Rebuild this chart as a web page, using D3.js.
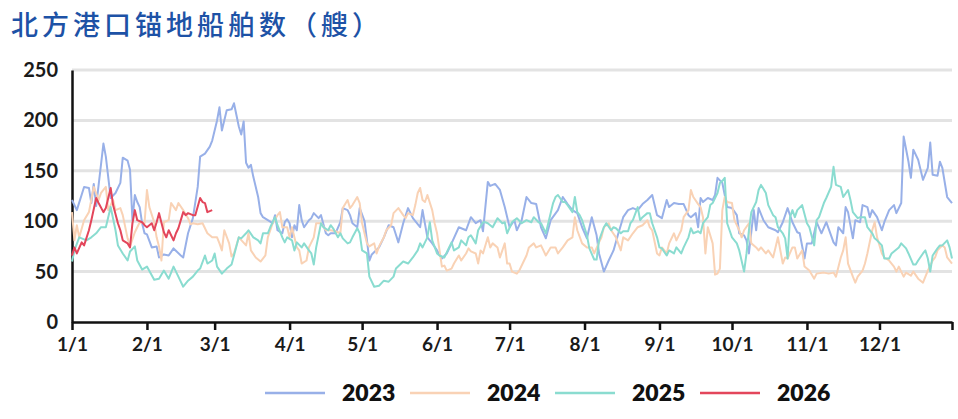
<!DOCTYPE html>
<html><head><meta charset="utf-8">
<script src="https://cdn.jsdelivr.net/npm/d3@7"></script>
<style>
html,body{margin:0;padding:0;background:#fff;}
svg{display:block;}
</style></head>
<body>
<svg id="chart" width="958" height="419"></svg>
<script>
// ---------- DATA (day = days since 1 Jan, value = ships at anchor) ----------
const title = "北方港口锚地船舶数（艘）";
const seriesNames = ["2023", "2024", "2025", "2026"];
const yTicks = [0, 50, 100, 150, 200, 250];
const monthStartDays = [0, 31, 59, 90, 120, 151, 181, 212, 243, 273, 304, 334];
const monthLabels = ["1/1","2/1","3/1","4/1","5/1","6/1","7/1","8/1","9/1","10/1","11/1","12/1"];

const days2023 = [0,2,5,7,8,9,10,13,14,16,18,20,21,23,24,25,26,27,28,29,30,31,33,35,36,38,40,42,45,46,48,50,52,53,55,57,58,60,61,62,64,66,67,69,70,71,72,73,74,75,77,78,79,81,83,84,85,87,88,89,90,91,92,93,94,95,96,98,99,100,102,103,105,106,107,109,111,112,114,115,116,118,119,121,122,123,124,127,129,131,133,135,137,139,141,144,145,147,149,151,153,155,157,160,163,165,167,169,170,172,173,175,177,179,181,183,184,186,188,190,192,194,196,198,201,203,205,207,209,211,213,215,217,218,220,222,224,226,228,230,232,234,236,238,240,242,244,246,247,249,251,253,255,256,258,259,260,261,263,265,266,267,269,270,271,273,275,276,278,279,280,282,283,284,286,288,291,292,294,296,298,300,301,303,304,306,308,310,312,315,316,317,319,320,321,323,324,326,327,329,330,331,333,335,336,338,340,341,343,344,346,347,348,350,351,352,354,355,356,358,359,360,362,364];
const vals2023 = [121,111,134,133,118,137,115,177,164,123,128,138,163,160,151,101,126,119,114,98,88,87,74,75,64,67,66,73,66,64,88,103,134,164,167,174,180,200,213,190,210,211,217,194,186,199,158,153,156,144,124,108,104,101,98,106,91,88,99,102,98,84,96,91,116,101,94,101,103,108,103,106,88,86,88,88,99,113,111,106,98,94,113,100,81,61,67,74,84,96,94,79,98,113,103,94,111,84,78,71,63,68,78,94,91,104,98,101,90,139,135,137,131,114,94,101,91,101,124,118,117,94,83,101,111,124,117,111,108,94,83,104,86,68,50,61,71,88,104,111,113,111,117,121,126,106,103,121,114,118,117,117,106,104,108,94,123,119,123,121,126,143,138,126,114,113,106,88,86,81,68,111,91,113,101,94,91,89,99,113,99,89,88,63,78,78,99,88,99,79,76,94,88,114,109,83,101,99,116,114,104,111,104,91,99,111,116,108,118,184,159,143,171,161,151,141,153,178,146,145,159,153,124,118];

const days2024 = [0,1,2,3,5,7,9,11,12,14,15,17,18,20,21,23,24,26,28,30,31,32,34,35,36,37,38,40,41,43,44,46,48,49,50,52,54,56,58,60,61,62,63,65,66,67,69,72,73,74,76,78,80,81,83,85,86,87,89,90,91,93,94,95,97,98,100,101,103,105,107,109,111,112,114,115,116,118,119,120,122,123,125,126,127,129,130,132,133,135,137,138,139,141,142,143,144,145,146,147,149,150,151,153,154,155,157,158,160,161,163,164,165,167,168,169,170,172,173,174,176,177,179,180,181,182,184,185,187,188,189,191,192,194,196,198,200,201,203,205,207,208,209,211,213,215,216,218,219,220,222,223,225,227,228,230,232,234,236,238,239,240,242,243,244,246,247,249,250,252,253,255,256,257,259,260,261,262,263,265,266,267,268,269,270,271,273,274,276,277,278,280,281,283,284,285,287,288,290,291,292,294,295,296,298,299,300,302,303,305,307,308,311,313,315,316,318,319,320,321,323,324,325,327,328,329,331,332,333,335,336,338,340,341,342,344,345,347,348,350,352,353,354,356,357,358,360,361,362,364];
const vals2024 = [109,81,96,84,101,109,134,121,128,134,111,121,111,113,106,83,75,89,99,98,131,114,99,84,75,61,99,101,118,111,118,111,103,97,98,97,98,88,84,84,78,71,91,78,65,68,84,76,88,71,64,60,66,84,98,106,109,94,94,84,94,74,71,58,61,74,84,98,98,91,91,90,88,113,121,113,116,124,118,98,78,75,78,68,75,84,91,96,108,113,106,103,108,106,116,128,133,121,119,126,111,98,88,55,56,51,53,58,66,61,68,73,70,68,58,71,68,84,74,78,74,64,78,58,58,50,48,51,61,66,74,78,74,76,66,74,74,68,74,81,84,104,91,78,74,74,68,79,84,94,98,91,84,71,84,81,88,94,96,101,94,91,68,66,74,68,78,88,81,91,104,111,131,124,117,114,104,68,94,78,47,48,53,111,124,119,118,101,91,84,91,98,78,74,71,74,68,71,64,74,84,58,64,63,74,74,63,71,55,51,43,48,49,48,49,45,64,71,84,58,45,39,45,51,58,68,91,99,84,68,64,61,55,50,55,45,49,46,50,43,39,45,51,61,64,71,76,74,64,58];

const days2025 = [0,1,3,5,6,8,10,12,14,16,18,19,21,23,24,26,27,29,31,34,36,38,40,42,44,46,48,50,52,53,55,56,58,59,60,62,64,66,67,69,70,72,73,75,77,78,79,81,82,84,85,87,88,89,91,92,93,95,96,98,99,100,101,103,104,106,107,108,110,111,112,114,115,116,118,119,120,122,123,125,127,129,131,133,134,137,139,141,143,144,145,147,148,149,151,152,154,156,157,158,160,161,163,164,165,167,168,170,171,172,174,176,178,179,180,182,184,186,188,190,191,193,194,196,197,199,200,201,203,204,205,207,208,209,210,211,213,214,216,217,218,220,221,223,224,225,227,228,230,231,232,234,235,236,238,239,240,242,243,244,246,247,249,250,252,253,255,256,257,259,260,261,263,264,265,267,268,269,270,271,272,273,275,276,278,279,280,281,283,284,285,287,288,290,291,292,294,295,296,297,298,299,300,302,304,305,307,308,309,311,312,314,315,316,318,319,321,322,323,325,326,328,329,331,332,333,335,336,338,339,340,342,343,345,346,348,349,350,352,353,354,355,356,358,359,360,362,363,364];
const vals2025 = [60,71,84,82,81,84,88,94,94,114,91,76,68,61,70,75,61,52,55,42,43,51,43,55,45,35,41,45,51,53,66,58,61,68,55,48,53,57,66,84,83,88,91,84,81,78,88,88,94,104,96,84,79,84,81,71,79,74,78,71,68,57,74,98,94,91,96,93,84,88,83,78,79,84,93,88,71,68,45,35,36,41,40,45,53,60,58,64,71,78,74,84,99,81,68,66,64,74,79,71,74,81,76,84,86,78,91,99,99,98,94,103,98,99,88,99,103,98,101,99,104,99,98,88,98,118,124,126,119,119,116,109,124,109,106,101,86,73,62,62,81,94,98,91,94,93,88,90,90,98,101,114,101,104,108,108,98,84,74,73,66,71,68,74,68,74,84,93,88,90,88,98,104,116,118,128,138,140,143,98,91,84,78,71,50,68,91,109,119,131,136,128,116,106,104,94,88,83,63,104,111,104,111,116,98,94,76,101,104,118,123,134,154,136,134,124,131,121,109,103,104,104,94,88,83,81,76,63,63,68,70,74,78,73,68,57,57,61,68,71,63,50,66,73,76,76,81,74,63];

const days2026 = [0,1,2,4,5,7,8,10,11,13,14,16,17,19,20,21,23,24,25,26,27,29,30,31,33,34,35,36,38,39,40,42,43,44,46,47,48,50,51,53,54,55,56,58];
const vals2026 = [66,74,68,79,76,91,101,123,118,109,113,133,116,98,91,81,78,74,98,111,101,99,96,94,98,91,99,108,89,84,91,81,88,93,109,106,108,106,106,123,119,118,109,111];

const seriesDays = [days2023, days2024, days2025, days2026];
const seriesVals = [vals2023, vals2024, vals2025, vals2026];
const colors = ["#98b0e8", "#f9d2b5", "#8adcd0", "#e3465b"];

// ---------- CHART ----------
const svg = d3.select("#chart");
const mL = 72, mR = 952, mT = 70, mB = 322;
const x = d3.scaleLinear().domain([0, 364]).range([mL, mR]);
const y = d3.scaleLinear().domain([0, 250]).range([mB, mT]);

svg.append("text").attr("x", 11).attr("y", 35)
  .attr("font-family", "'Noto Sans CJK SC', sans-serif").attr("font-size", 27)
  .attr("font-weight", 500).attr("letter-spacing", "4px")
  .attr("fill", "#1d52a6").text(title);

// grid lines
svg.append("g").selectAll("line").data(yTicks.filter(d => d > 0)).join("line")
  .attr("x1", mL).attr("x2", mR).attr("y1", d => y(d)).attr("y2", d => y(d))
  .attr("stroke", "#e3e3e3").attr("stroke-width", 3);

// y axis
const yAxis = svg.append("g").attr("transform", `translate(${mL},0)`)
  .call(d3.axisLeft(y).tickValues(yTicks).tickSize(0).tickPadding(14));
yAxis.select(".domain").attr("stroke", "#111").attr("stroke-width", 2.5);
yAxis.selectAll("text").attr("font-family", "Lato, sans-serif").attr("font-weight", 700)
  .attr("font-size", 20).attr("fill", "#1a1a1a");

// lines
const line = d3.line().x(d => x(d[0])).y(d => y(d[1])).curve(d3.curveLinear);
seriesNames.forEach((name, i) => {
  const n = Math.min(seriesDays[i].length, seriesVals[i].length);
  const pts = d3.range(n).map(j => [seriesDays[i][j], seriesVals[i][j]]);
  svg.append("path").datum(pts).attr("d", line)
    .attr("fill", "none").attr("stroke", colors[i]).attr("stroke-width", 2)
    .attr("stroke-linejoin", "round");
});

// x axis
const xAxis = svg.append("g").attr("transform", `translate(0,${mB})`)
  .call(d3.axisBottom(x).tickValues(monthStartDays.concat([364]))
    .tickFormat((d, i) => monthLabels[i] || "").tickSize(8).tickSizeOuter(0).tickPadding(8));
xAxis.select(".domain").attr("stroke", "#111").attr("stroke-width", 2.5);
xAxis.selectAll("line").attr("stroke", "#111").attr("stroke-width", 2.5);
xAxis.selectAll("text").attr("font-family", "Lato, sans-serif").attr("font-weight", 700)
  .attr("font-size", 19).attr("fill", "#1a1a1a");

// legend
const legendX = [265, 410, 555, 700];
const lg = svg.append("g");
seriesNames.forEach((name, i) => {
  lg.append("line").attr("x1", legendX[i]).attr("x2", legendX[i] + 60)
    .attr("y1", 393).attr("y2", 393).attr("stroke", colors[i]).attr("stroke-width", 2.5);
  lg.append("text").attr("x", legendX[i] + 77).attr("y", 393).attr("dy", "0.35em")
    .attr("font-family", "Lato, sans-serif").attr("font-weight", 800).attr("font-size", 23)
    .attr("fill", "#111").text(name);
});
</script>
</body></html>
